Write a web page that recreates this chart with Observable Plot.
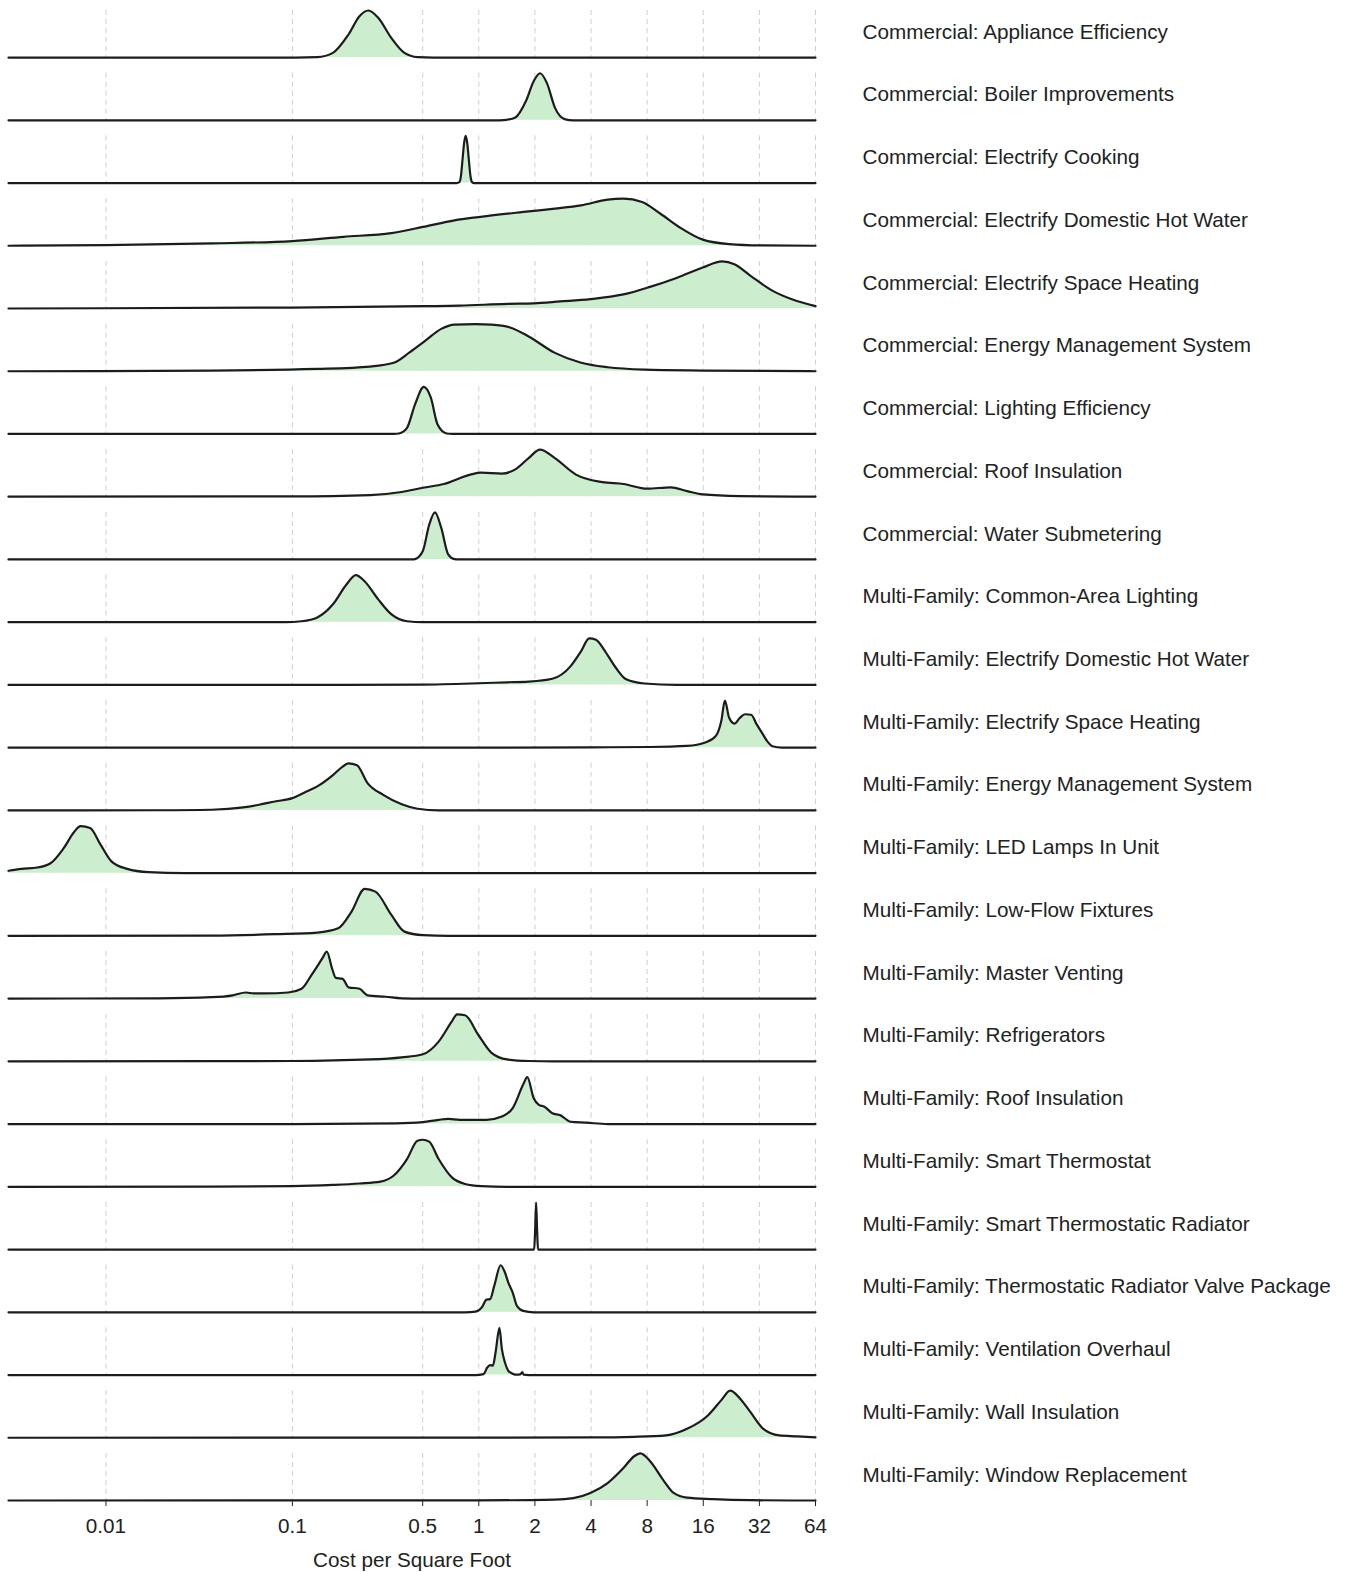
<!DOCTYPE html>
<html>
<head>
<meta charset="utf-8">
<script src="https://cdn.jsdelivr.net/npm/d3@7"></script>
<script src="https://cdn.jsdelivr.net/npm/@observablehq/plot@0.6"></script>
<style>
  html, body { margin: 0; padding: 0; background: #fff; }
</style>
</head>
<body>
<div id="chart"></div>
<script>
// Measure names (row order, top to bottom)
const names = [
  "Commercial: Appliance Efficiency",
  "Commercial: Boiler Improvements",
  "Commercial: Electrify Cooking",
  "Commercial: Electrify Domestic Hot Water",
  "Commercial: Electrify Space Heating",
  "Commercial: Energy Management System",
  "Commercial: Lighting Efficiency",
  "Commercial: Roof Insulation",
  "Commercial: Water Submetering",
  "Multi-Family: Common-Area Lighting",
  "Multi-Family: Electrify Domestic Hot Water",
  "Multi-Family: Electrify Space Heating",
  "Multi-Family: Energy Management System",
  "Multi-Family: LED Lamps In Unit",
  "Multi-Family: Low-Flow Fixtures",
  "Multi-Family: Master Venting",
  "Multi-Family: Refrigerators",
  "Multi-Family: Roof Insulation",
  "Multi-Family: Smart Thermostat",
  "Multi-Family: Smart Thermostatic Radiator",
  "Multi-Family: Thermostatic Radiator Valve Package",
  "Multi-Family: Ventilation Overhaul",
  "Multi-Family: Wall Insulation",
  "Multi-Family: Window Replacement"
];

// x-axis tick values and labels
const xTicks = [0.01, 0.1, 0.5, 1, 2, 4, 8, 16, 32, 64];
const xTickLabels = ["0.01", "0.1", "0.5", "1", "2", "4", "8", "16", "32", "64"];
const xDomain = [0.003, 64];

// Density curves: [cost per sq ft, relative density (peak = 1)]
const appliance = [[0.003,0],[0.104,0],[0.136,0.01],[0.165,0.1],[0.2,0.49],[0.229,0.88],[0.256,1],[0.288,0.85],[0.339,0.42],[0.399,0.1],[0.469,0.01],[0.57,0],[64,0]];
const boiler = [[0.003,0],[1.3,0],[1.41,0.01],[1.57,0.06],[1.79,0.41],[1.97,0.83],[2.13,1],[2.32,0.79],[2.56,0.27],[2.91,0.02],[3.2,0],[64,0]];
const cooking = [[0.003,0],[0.76,0],[0.787,0.02],[0.802,0.15],[0.818,0.5],[0.834,0.85],[0.85,1],[0.867,0.85],[0.884,0.5],[0.902,0.15],[0.92,0.02],[0.945,0],[64,0]];
const dhwCom = [[0.003,0],[0.01,0.015],[0.0369,0.05],[0.1,0.1],[0.188,0.19],[0.339,0.27],[0.501,0.4],[0.741,0.54],[0.995,0.61],[1.85,0.73],[2.56,0.79],[3.54,0.86],[4.91,0.98],[5.97,1],[7.51,0.93],[9.43,0.68],[12.2,0.37],[15.9,0.13],[22,0.035],[32.6,0.007],[64,0]];
const heatCom = [[0.003,0],[0.01,0.005],[0.1,0.02],[0.5,0.05],[0.79,0.06],[1.42,0.1],[1.97,0.11],[2.73,0.15],[3.97,0.2],[5.97,0.3],[8.28,0.46],[11.5,0.65],[15.9,0.87],[20.2,1],[23.5,0.94],[28.6,0.7],[37.1,0.39],[48.2,0.19],[64,0.05]];
const emsCom = [[0.003,0],[0.0369,0.015],[0.136,0.05],[0.261,0.1],[0.35,0.18],[0.425,0.4],[0.517,0.65],[0.629,0.9],[0.741,0.99],[0.962,1],[1.17,0.99],[1.47,0.93],[1.85,0.74],[2.56,0.39],[3.54,0.18],[4.91,0.085],[7.75,0.035],[15.9,0.015],[64,0]];
const lighting = [[0.003,0],[0.35,0],[0.373,0.01],[0.412,0.13],[0.454,0.62],[0.507,1],[0.553,0.77],[0.601,0.2],[0.672,0.01],[0.72,0],[64,0]];
const roofCom = [[0.003,0],[0.1,0.007],[0.261,0.035],[0.386,0.1],[0.501,0.19],[0.65,0.27],[0.901,0.47],[1.03,0.51],[1.33,0.49],[1.57,0.58],[1.85,0.82],[2.13,1],[2.56,0.82],[3.32,0.47],[4.6,0.31],[5.97,0.27],[8.01,0.17],[10.7,0.2],[13.1,0.12],[15.9,0.05],[25.1,0.014],[64,0]];
const water = [[0.003,0],[0.44,0],[0.454,0.007],[0.501,0.18],[0.542,0.74],[0.582,1],[0.629,0.67],[0.685,0.11],[0.741,0.007],[0.78,0],[64,0]];
const commonArea = [[0.003,0],[0.0919,0],[0.112,0.02],[0.136,0.1],[0.165,0.38],[0.195,0.8],[0.219,1],[0.244,0.87],[0.288,0.49],[0.339,0.17],[0.412,0.02],[0.501,0],[64,0]];
const dhwMF = [[0.003,0],[0.1,0],[0.501,0.007],[0.995,0.035],[1.42,0.056],[1.85,0.07],[2.48,0.13],[3.11,0.4],[3.54,0.72],[3.91,0.99],[4.25,0.96],[4.75,0.72],[5.42,0.37],[6.17,0.12],[7.75,0.03],[11.5,0],[64,0]];
const heatMF = [[0.003,0],[0.995,0],[3.97,0.007],[8.28,0.014],[13.1,0.036],[16.4,0.11],[18.7,0.25],[20.0,0.57],[20.9,1],[22.0,0.64],[23.5,0.51],[25.1,0.63],[26.8,0.71],[28.9,0.7],[30.9,0.5],[33.0,0.32],[35.2,0.14],[37.6,0.03],[42.3,0],[64,0]];
const emsMF = [[0.003,0],[0.0192,0.003],[0.0369,0.014],[0.0545,0.063],[0.0663,0.12],[0.0806,0.19],[0.1,0.26],[0.119,0.4],[0.136,0.51],[0.165,0.75],[0.186,0.93],[0.2,1],[0.222,0.96],[0.253,0.58],[0.307,0.33],[0.386,0.13],[0.469,0.035],[0.609,0],[64,0]];
const ledLamps = [[0.003,0.05],[0.00352,0.09],[0.00428,0.12],[0.00504,0.21],[0.00593,0.53],[0.00676,0.88],[0.00731,1],[0.00822,0.96],[0.00937,0.6],[0.0107,0.25],[0.013,0.09],[0.0169,0.02],[0.0266,0],[64,0]];
const lowFlow = [[0.003,0],[0.0369,0.007],[0.0806,0.035],[0.136,0.07],[0.176,0.16],[0.208,0.52],[0.244,1],[0.279,0.94],[0.339,0.45],[0.399,0.09],[0.501,0.014],[0.694,0],[64,0]];
const venting = [[0.003,0],[0.0192,0.007],[0.0369,0.03],[0.0479,0.07],[0.0563,0.13],[0.0621,0.11],[0.0708,0.11],[0.0949,0.13],[0.112,0.21],[0.127,0.51],[0.145,0.86],[0.153,1],[0.163,0.65],[0.171,0.44],[0.186,0.42],[0.2,0.24],[0.229,0.21],[0.253,0.07],[0.317,0.04],[0.386,0.007],[0.501,0],[64,0]];
const fridges = [[0.003,0],[0.0369,0.003],[0.1,0.007],[0.261,0.04],[0.386,0.085],[0.501,0.15],[0.609,0.42],[0.717,0.85],[0.765,1],[0.844,0.98],[0.995,0.56],[1.17,0.18],[1.42,0.04],[1.85,0.007],[2.56,0],[64,0]];
const roofMF = [[0.003,0],[0.1,0],[0.361,0.014],[0.501,0.04],[0.609,0.09],[0.685,0.11],[0.79,0.09],[1.1,0.09],[1.33,0.16],[1.52,0.34],[1.73,0.84],[1.82,1],[1.97,0.55],[2.1,0.41],[2.25,0.37],[2.48,0.23],[2.73,0.19],[3.11,0.05],[3.78,0.03],[4.91,0],[64,0]];
const smartThermo = [[0.003,0],[0.0369,0.003],[0.1,0.014],[0.165,0.04],[0.229,0.07],[0.297,0.11],[0.35,0.24],[0.412,0.59],[0.469,0.98],[0.501,1],[0.542,0.96],[0.609,0.59],[0.717,0.2],[0.844,0.06],[1.03,0.014],[1.42,0],[64,0]];
const smartRadiator = [[0.003,0],[1.98,0],[2.005,0.4],[2.03,1],[2.055,0.4],[2.08,0],[64,0]];
const trvPackage = [[0.003,0],[0.844,0],[0.962,0.014],[1.04,0.11],[1.1,0.27],[1.15,0.28],[1.21,0.56],[1.31,1],[1.38,0.85],[1.44,0.63],[1.52,0.42],[1.6,0.14],[1.73,0.03],[1.97,0],[64,0]];
const ventilation = [[0.003,0],[0.962,0],[1.06,0.02],[1.11,0.16],[1.15,0.21],[1.19,0.2],[1.23,0.48],[1.29,1],[1.33,0.55],[1.38,0.27],[1.44,0.09],[1.5,0.04],[1.57,0.007],[1.67,0.014],[1.71,0.06],[1.74,0.007],[1.85,0],[64,0]];
const wallIns = [[0.003,0],[0.995,0.003],[3.97,0.007],[6.81,0.02],[10.1,0.05],[13.1,0.19],[17.0,0.48],[20.0,0.8],[22.3,1],[25.1,0.84],[28.6,0.55],[33.6,0.19],[40.9,0.05],[51.4,0.03],[64,0.007]];
const windows = [[0.003,0],[0.995,0.003],[2.56,0.02],[3.21,0.05],[3.97,0.16],[4.91,0.37],[5.97,0.69],[6.81,0.94],[7.36,1],[8.28,0.84],[9.74,0.44],[11.1,0.16],[13.1,0.06],[18.1,0.03],[28.6,0.007],[48.2,0],[64,0]];

const curves = [appliance, boiler, cooking, dhwCom, heatCom, emsCom, lighting, roofCom, water,
  commonArea, dhwMF, heatMF, emsMF, ledLamps, lowFlow, venting, fridges, roofMF, smartThermo,
  smartRadiator, trvPackage, ventilation, wallIns, windows];

const rows = names.flatMap((name, i) => curves[i].map(([x, y]) => ({name, x, y})));
const tickLabelOf = new Map(xTicks.map((t, i) => [t, xTickLabels[i]]));

const fontFamily = "'Liberation Sans', Arial, Helvetica, sans-serif";

const chart = Plot.plot({
  width: 1355,
  height: 1572,
  marginLeft: 8,
  marginRight: 540,
  marginTop: 10,
  marginBottom: 72,
  style: {fontFamily, fontSize: "20.7px", color: "#222", background: "#fff"},
  x: {type: "log", domain: xDomain},
  y: {domain: [0, 1], axis: null},
  fy: {domain: names, paddingInner: 0.25, paddingOuter: 0, round: false},
  marks: [
    Plot.gridX(xTicks, {stroke: "#cfcfcf", strokeOpacity: 1, strokeWidth: 1, strokeDasharray: "5,4"}),
    Plot.areaY(rows, {x: "x", y: "y", fy: "name", fill: "#cdedcf", curve: "monotone-x"}),
    Plot.lineY(rows, {x: "x", y: "y", fy: "name", stroke: "#1c1c1c", strokeWidth: 2.2, curve: "monotone-x"}),
    Plot.axisX({ticks: xTicks, text: d => tickLabelOf.get(d), tickSize: 6, tickPadding: 12,
      label: "Cost per Square Foot", labelAnchor: "center", labelOffset: 66, labelArrow: "none"}),
    Plot.axisFy({anchor: "right", tickSize: 0, tickPadding: 47, label: null, textAnchor: "start", dy: -2})
  ]
});

document.getElementById("chart").appendChild(chart);
</script>
</body>
</html>
